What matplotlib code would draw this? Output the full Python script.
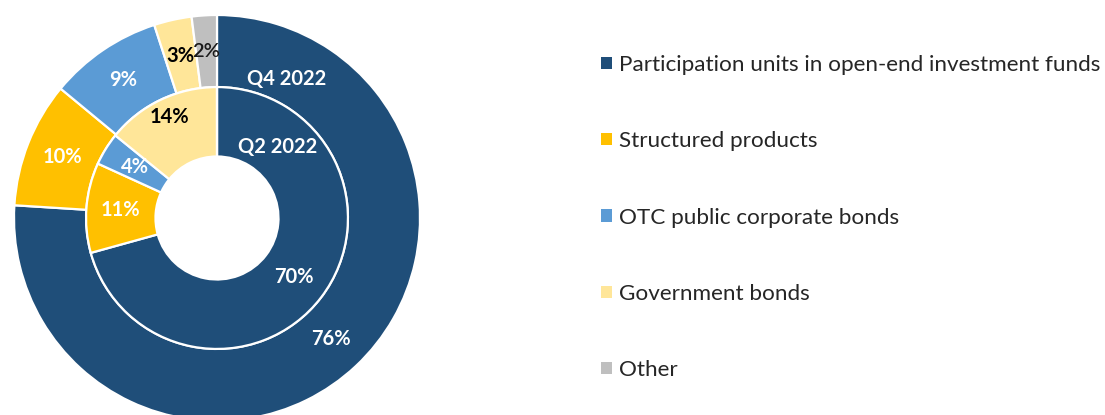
import matplotlib.pyplot as plt
from matplotlib.patches import Patch

categories = [
    "Participation units in open-end investment funds",
    "Structured products",
    "OTC public corporate bonds",
    "Government bonds",
    "Other",
]
q4_2022 = [76, 10, 9, 3, 2]
q2_2022 = [70, 11, 4, 14, 0]

colors = ["#1F4E79", "#FFC000", "#5B9BD5", "#FFE699", "#BFBFBF"]
q4_label_colors = ["white", "white", "white", "black", "#1a1a1a"]
q2_label_colors = ["white", "white", "white", "black", "black"]


def pct_formatter(values):
    total = sum(values)

    def fmt(p):
        v = p * total / 100
        return f"{v:.0f}%" if v >= 0.5 else ""

    return fmt


def main():
    plt.rcParams["font.family"] = ["Lato", "DejaVu Sans"]
    fig = plt.figure(figsize=(11.05, 4.15), dpi=100)
    ax = fig.add_axes([14 / 1105, -6 / 415, 406 / 1105, 406 / 415])

    wedge_style = dict(edgecolor="white", linewidth=1.6)

    outer, _, outer_txt = ax.pie(
        q4_2022,
        colors=colors,
        radius=1.0,
        startangle=90,
        counterclock=False,
        autopct=pct_formatter(q4_2022),
        pctdistance=0.82,
        wedgeprops=dict(width=0.355, **wedge_style),
        textprops=dict(fontsize=14.5, fontweight="bold"),
    )
    inner, _, inner_txt = ax.pie(
        q2_2022,
        colors=colors,
        radius=0.645,
        startangle=90,
        counterclock=False,
        autopct=pct_formatter(q2_2022),
        pctdistance=0.74,
        wedgeprops=dict(width=0.342, **wedge_style),
        textprops=dict(fontsize=14.5, fontweight="bold"),
    )

    for t, c in zip(outer_txt, q4_label_colors):
        t.set_color(c)
    for t, c in zip(inner_txt, q2_label_colors):
        t.set_color(c)
    outer_txt[4].set_fontweight("semibold")
    # government bonds label sits a bit further out in the inner ring
    x, y = inner_txt[3].get_position()
    inner_txt[3].set_position((x * 1.15, y * 1.15))

    ax.text(0.345, 0.685, "Q4 2022", color="white", fontsize=14.5,
            fontweight="bold", ha="center", va="center")
    ax.text(0.30, 0.35, "Q2 2022", color="white", fontsize=14.5,
            fontweight="bold", ha="center", va="center")

    ax.set_xlim(-1, 1)
    ax.set_ylim(-1, 1)

    handles = [Patch(facecolor=c, edgecolor="none") for c in colors]
    fig.legend(
        handles,
        categories,
        loc="upper left",
        bbox_to_anchor=(601 / 1105, 1 - 55 / 415),
        frameon=False,
        fontsize=16.2,
        handlelength=0.47,
        handleheight=0.47,
        handletextpad=0.33,
        labelspacing=2.5,
        borderpad=0,
        borderaxespad=0,
        labelcolor="#262626",
    )

    fig.savefig("out.png", dpi=100)


if __name__ == "__main__":
    main()
